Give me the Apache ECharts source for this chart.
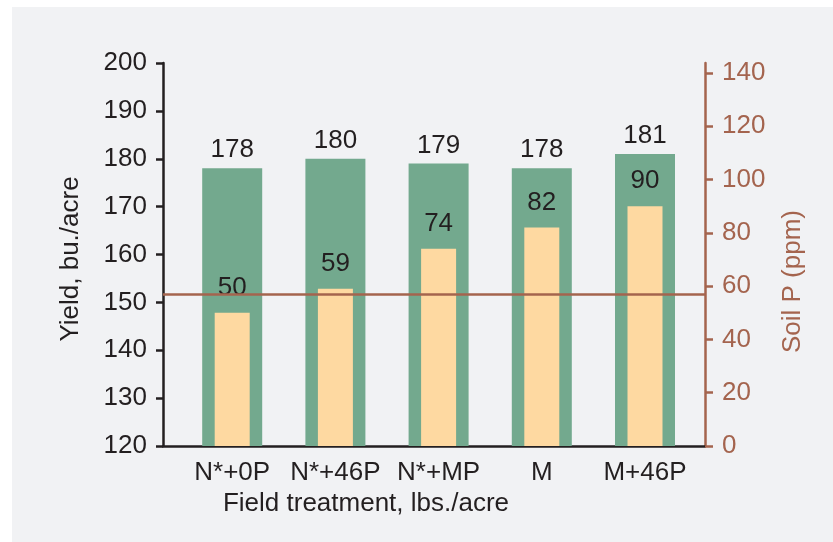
<!DOCTYPE html>
<html>
<head>
<meta charset="utf-8">
<script src="https://cdn.jsdelivr.net/npm/echarts@6/dist/echarts.min.js"></script>
<style>
  html, body { margin: 0; padding: 0; background: #ffffff; }
  #chart { width: 833px; height: 542px; }
</style>
</head>
<body>
<div id="chart"></div>
<script>
// Field treatments along the x axis
const categories = ['N*+0P', 'N*+46P', 'N*+MP', 'M', 'M+46P'];
// Corn yield, bu./acre (left axis)
const yieldValues = [178, 180, 179, 178, 181];
// Soil test P, ppm (right axis)
const soilPValues = [50, 59, 74, 82, 90];
// Critical soil P level drawn as a horizontal reference line (ppm)
const soilPCritical = 57;
// Right-axis tick labels
const soilPTicks = [0, 20, 40, 60, 80, 100, 120, 140];

const FONT = '"Liberation Sans", Arial, Helvetica, sans-serif';
const INK = '#231f20';
const BROWN = '#a4644e';
const GREEN = '#73a98e';
const PEACH = '#fed9a1';

const chart = echarts.init(document.getElementById('chart'), null, { renderer: 'canvas' });

const frameGrid = { left: 163, right: 128, top: 63, bottom: 96 };
const barGrid = { left: 180.6, right: 136.4, top: 63, bottom: 96 };

const option = {
  animation: false,
  backgroundColor: 'transparent',
  textStyle: { fontFamily: FONT },
  graphic: [{
    type: 'rect',
    z: -100,
    silent: true,
    shape: { x: 12, y: 7, width: 821, height: 535 },
    style: { fill: '#f1f2f4' }
  }],
  grid: [
    Object.assign({ containLabel: false }, frameGrid),
    Object.assign({ containLabel: false }, barGrid)
  ],
  xAxis: [
    {
      // frame baseline
      gridIndex: 0,
      type: 'value',
      min: 0,
      max: 1,
      axisLine: { show: true, onZero: false, lineStyle: { color: INK, width: 2.5 } },
      axisTick: { show: false },
      axisLabel: { show: false },
      splitLine: { show: false },
      name: 'Field treatment, lbs./acre',
      nameLocation: 'middle',
      nameGap: 45,
      nameTextStyle: { fontSize: 26, color: INK, fontFamily: FONT, padding: [0, 136, 0, 0] }
    },
    {
      // treatment categories for the yield bars
      gridIndex: 1,
      type: 'category',
      data: categories,
      axisLine: { show: false },
      axisTick: { show: false },
      axisLabel: { fontSize: 26, color: INK, fontFamily: FONT, margin: 14, interval: 0 },
      splitLine: { show: false }
    },
    {
      // same categories for the soil P bars
      gridIndex: 1,
      type: 'category',
      data: categories,
      show: false
    }
  ],
  yAxis: [
    {
      gridIndex: 0,
      type: 'value',
      position: 'left',
      min: 120,
      max: 200,
      interval: 10,
      axisLine: { show: true, lineStyle: { color: INK, width: 2.5 } },
      axisTick: { show: true, length: 7, lineStyle: { color: INK, width: 2.5 } },
      axisLabel: { fontSize: 26, color: INK, fontFamily: FONT, margin: 16 },
      splitLine: { show: false },
      name: 'Yield, bu./acre',
      nameLocation: 'middle',
      nameRotate: 90,
      nameGap: 79,
      nameTextStyle: { fontSize: 26, color: INK, fontFamily: FONT, padding: [0, 9, 0, 0] }
    },
    {
      gridIndex: 0,
      type: 'value',
      position: 'right',
      min: 0,
      max: 143.7,
      axisLine: { show: true, lineStyle: { color: BROWN, width: 2.5 } },
      axisTick: { show: true, length: 8, customValues: soilPTicks, lineStyle: { color: BROWN, width: 2.5 } },
      axisLabel: { fontSize: 26, color: BROWN, fontFamily: FONT, margin: 17, customValues: soilPTicks },
      splitLine: { show: false },
      name: 'Soil P (ppm)',
      nameLocation: 'middle',
      nameRotate: 90,
      nameGap: 75,
      nameTextStyle: { fontSize: 26, color: BROWN, fontFamily: FONT, padding: [0, 54, 0, 0] }
    },
    { gridIndex: 1, type: 'value', min: 120, max: 200, show: false },
    { gridIndex: 1, type: 'value', min: 0, max: 143.7, show: false }
  ],
  series: [
    {
      name: 'Yield',
      type: 'bar',
      xAxisIndex: 1,
      yAxisIndex: 2,
      data: yieldValues,
      barWidth: 60,
      itemStyle: { color: GREEN },
      label: {
        show: true,
        position: 'top',
        distance: 5,
        fontSize: 26,
        color: INK,
        fontFamily: FONT
      },
      z: 2
    },
    {
      name: 'Soil P',
      type: 'bar',
      xAxisIndex: 2,
      yAxisIndex: 3,
      data: soilPValues,
      barWidth: 35,
      itemStyle: { color: PEACH },
      label: {
        show: true,
        position: 'top',
        distance: 12,
        fontSize: 26,
        color: INK,
        fontFamily: FONT
      },
      z: 3
    },
    {
      name: 'Critical soil P',
      type: 'line',
      xAxisIndex: 0,
      yAxisIndex: 1,
      data: [],
      z: 4,
      markLine: {
        silent: true,
        symbol: 'none',
        label: { show: false },
        lineStyle: { color: BROWN, width: 2.5, type: 'solid' },
        data: [{ yAxis: soilPCritical }]
      }
    }
  ]
};

chart.setOption(option);
</script>
</body>
</html>
